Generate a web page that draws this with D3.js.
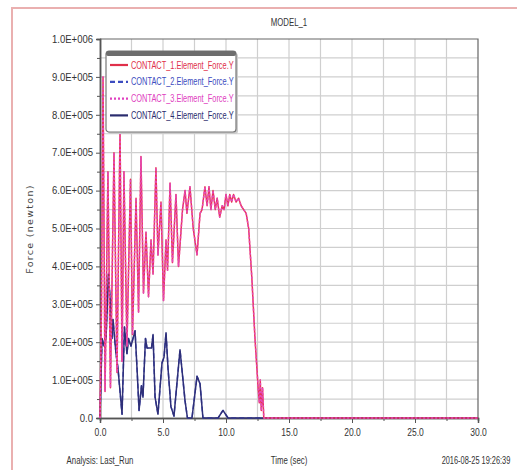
<html>
<head>
    <script src="https://d3js.org/d3.v7.min.js"></script>
    <style>body { margin: 0; background: #fff; }</style>
</head>
<body>
    <svg width="517" height="470"></svg>
    <script>
        // values: [time (sec), force (newton)]
        const contact1 = [
            [0.00, 0], [0.12, 3.0e5], [0.24, 9.0e5], [0.40, 0.7e5], [0.63, 6.5e5], [0.83, 0.8e5],
            [1.11, 7.0e5], [1.35, 1.2e5], [1.59, 7.6e5], [1.75, 1.5e5], [1.90, 6.5e5], [2.14, 1.9e5],
            [2.42, 6.3e5], [2.58, 2.2e5], [2.86, 5.8e5], [3.06, 2.8e5], [3.25, 6.9e5], [3.45, 3.3e5],
            [3.65, 4.9e5], [3.85, 3.2e5], [4.05, 4.7e5], [4.21, 3.8e5], [4.44, 6.6e5], [4.60, 4.3e5],
            [4.84, 5.7e5], [5.04, 3.1e5], [5.24, 4.7e5], [5.36, 3.9e5], [5.56, 6.2e5], [5.75, 4.1e5],
            [6.03, 5.9e5], [6.23, 4.0e5], [6.55, 5.5e5], [6.75, 6.0e5], [6.90, 5.4e5], [7.14, 6.1e5],
            [7.40, 5.0e5], [7.70, 4.3e5], [7.94, 5.4e5], [8.10, 5.5e5], [8.33, 6.1e5], [8.50, 5.6e5],
            [8.65, 6.1e5], [8.80, 5.5e5], [8.97, 6.0e5], [9.15, 5.5e5], [9.30, 5.8e5], [9.50, 5.3e5],
            [9.70, 5.6e5], [9.85, 5.5e5], [10.00, 5.9e5], [10.15, 5.6e5], [10.30, 5.9e5], [10.45, 5.7e5],
            [10.60, 5.9e5], [10.80, 5.7e5], [11.00, 5.8e5], [11.20, 5.6e5], [11.40, 5.5e5], [11.60, 5.4e5],
            [11.80, 5.0e5], [12.05, 3.7e5], [12.30, 2.1e5], [12.55, 0.8e5], [12.65, 0.4e5], [12.72, 1.0e5],
            [12.80, 0.2e5], [12.90, 0.8e5], [13.00, 0], [30.00, 0]
        ]
        // contact 3 lies on top of contact 1 in the picture
        const contact3 = contact1

        const contact4 = [
            [0.00, 0], [0.16, 2.1e5], [0.32, 1.9e5], [0.48, 2.1e5], [0.67, 3.8e5], [0.79, 3.2e5],
            [0.95, 2.1e5], [1.03, 2.6e5], [1.27, 1.7e5], [1.43, 1.3e5], [1.75, 0.1e5], [1.94, 2.4e5],
            [2.14, 1.7e5], [2.26, 2.1e5], [2.46, 1.9e5], [2.78, 2.3e5], [2.94, 1.3e5], [3.10, 0.2e5],
            [3.29, 0.85e5], [3.41, 0.55e5], [3.61, 2.1e5], [3.73, 1.85e5], [4.09, 1.85e5], [4.21, 2.2e5],
            [4.37, 0.55e5], [4.60, 0.1e5], [4.92, 1.45e5], [5.08, 1.6e5], [5.24, 2.25e5], [5.40, 1.3e5],
            [5.63, 0.3e5], [5.87, 0.05e5], [6.35, 1.8e5], [6.75, 0.45e5], [6.94, 0], [7.30, 0],
            [7.70, 1.1e5], [7.94, 0.9e5], [8.17, 0], [9.37, 0], [9.76, 0.2e5], [10.16, 0], [30.00, 0]
        ]
        // contact 2 lies under contact 4
        const contact2 = contact4

        const seriesNames = ["CONTACT_1.Element_Force.Y", "CONTACT_2.Element_Force.Y",
                             "CONTACT_3.Element_Force.Y", "CONTACT_4.Element_Force.Y"]
        const xTicks = [0, 5, 10, 15, 20, 25, 30]
        const xTickLabels = ["0.0", "5.0", "10.0", "15.0", "20.0", "25.0", "30.0"]
        const yTicks = [0, 1e5, 2e5, 3e5, 4e5, 5e5, 6e5, 7e5, 8e5, 9e5, 1e6]
        const yTickLabels = ["0.0", "1.0E+005", "2.0E+005", "3.0E+005", "4.0E+005", "5.0E+005",
                             "6.0E+005", "7.0E+005", "8.0E+005", "9.0E+005", "1.0E+006"]

        const MARGIN = { LEFT: 100, RIGHT: 39, TOP: 39, BOTTOM: 52 }
        const WIDTH = 517 - MARGIN.LEFT - MARGIN.RIGHT
        const HEIGHT = 470 - MARGIN.TOP - MARGIN.BOTTOM
        const FONT = "'Liberation Sans', Arial, sans-serif"

        // squeeze text horizontally, the original uses a narrow font
        function condense(sel, k) {
            sel.each(function () {
                const w = this.getComputedTextLength()
                d3.select(this).attr("textLength", w * k).attr("lengthAdjust", "spacingAndGlyphs")
            })
        }

        const svg = d3.select("svg")

        // page frame
        svg.append("rect").attr("width", 517).attr("height", 470).attr("fill", "#fff")
        svg.append("path")
            .attr("d", "M12,470 L12,8 L517,8")
            .attr("fill", "none")
            .attr("stroke", "#eab0b0")
            .attr("stroke-width", 2)

        const g = svg.append("g")
            .attr("transform", `translate(${MARGIN.LEFT}, ${MARGIN.TOP})`)

        const x = d3.scaleLinear().domain([0, 30]).range([0, WIDTH])
        const y = d3.scaleLinear().domain([0, 1e6]).range([HEIGHT, 0])

        // grid
        g.append("g").selectAll("line")
            .data(d3.range(0.5e5, 1e6, 0.5e5))
            .enter().append("line")
            .attr("x1", 0).attr("x2", WIDTH)
            .attr("y1", d => y(d)).attr("y2", d => y(d))
            .attr("stroke", "#cfcfcf").attr("stroke-width", 1.2)
        g.append("g").selectAll("line")
            .data(d3.range(2.5, 30, 2.5))
            .enter().append("line")
            .attr("y1", 0).attr("y2", HEIGHT)
            .attr("x1", d => x(d)).attr("x2", d => x(d))
            .attr("stroke", "#cfcfcf").attr("stroke-width", 1.2)

        // frame top / right
        g.append("path")
            .attr("d", `M0,0 H${WIDTH} V${HEIGHT}`)
            .attr("fill", "none").attr("stroke", "#666").attr("stroke-width", 1.2)

        // axes
        const xAxis = g.append("g")
            .attr("transform", `translate(0, ${HEIGHT})`)
            .call(d3.axisBottom(x).tickValues(xTicks).tickFormat((d, i) => xTickLabels[i]).tickSize(5).tickPadding(6))
        g.append("g")
            .attr("transform", `translate(0, ${HEIGHT})`)
            .call(d3.axisBottom(x).tickValues(d3.range(2.5, 30, 5)).tickFormat("").tickSize(3))
        const yAxis = g.append("g")
            .call(d3.axisLeft(y).tickValues(yTicks).tickFormat((d, i) => yTickLabels[i]).tickSize(4).tickPadding(3))
        g.append("g")
            .call(d3.axisLeft(y).tickValues(d3.range(0.5e5, 1e6, 1e5)).tickFormat("").tickSize(3))

        g.selectAll(".domain").attr("stroke", "#555").attr("stroke-width", 1.5)
        g.selectAll(".tick line").attr("stroke", "#555")
        g.selectAll(".tick text")
            .attr("font-family", FONT).attr("font-size", "10px").attr("fill", "#333")
        xAxis.selectAll(".tick text").call(condense, 0.85)
        yAxis.selectAll(".tick text").call(condense, 0.95)

        // lines
        const line = d3.line().x(d => x(d[0])).y(d => y(d[1]))
        const series = [
            { data: contact2, color: "#4a56c8", dash: "5,3" },
            { data: contact4, color: "#2e2f78", dash: null },
            { data: contact1, color: "#e8345a", dash: null },
            { data: contact3, color: "#e44ab8", dash: "2,2" }
        ]
        series.forEach(s => {
            g.append("path")
                .datum(s.data)
                .attr("d", line)
                .attr("fill", "none")
                .attr("stroke", s.color)
                .attr("stroke-width", 1.5)
                .attr("stroke-dasharray", s.dash)
                .attr("stroke-linejoin", "round")
        })

        // legend
        const legendColors = ["#e0304a", "#3c4cc0", "#e040c0", "#2a2c6e"]
        const legendDash = [null, "5,3", "2,2", null]
        const lg = svg.append("g").attr("transform", "translate(106, 51)")
        lg.append("rect")
            .attr("x", 2).attr("y", 2).attr("width", 130).attr("height", 81).attr("rx", 3)
            .attr("fill", "#ccc")
        lg.append("rect")
            .attr("width", 130).attr("height", 81).attr("rx", 3)
            .attr("fill", "#fff").attr("stroke", "#777").attr("stroke-width", 1.2)
        lg.append("rect")
            .attr("width", 130).attr("height", 5).attr("rx", 2)
            .attr("fill", "#6d6d6d")
        seriesNames.forEach((name, i) => {
            const yy = 14 + i * 16.8
            lg.append("line")
                .attr("x1", 4).attr("x2", 22).attr("y1", yy).attr("y2", yy)
                .attr("stroke", legendColors[i]).attr("stroke-width", 2.2)
                .attr("stroke-dasharray", legendDash[i])
            lg.append("text")
                .attr("x", 25).attr("y", yy + 3.5)
                .attr("font-family", FONT).attr("font-size", "10px")
                .attr("fill", legendColors[i])
                .text(name)
                .call(condense, 0.74)
        })

        // title and labels
        svg.append("text")
            .attr("x", MARGIN.LEFT + WIDTH / 2).attr("y", 26)
            .attr("text-anchor", "middle")
            .attr("font-family", FONT).attr("font-size", "10px").attr("fill", "#333")
            .text("MODEL_1")
            .call(condense, 0.78)
        svg.append("text")
            .attr("transform", "translate(33, 229) rotate(-90)")
            .attr("text-anchor", "middle")
            .attr("font-family", "'DejaVu Sans', sans-serif").attr("font-size", "9.5px")
            .attr("letter-spacing", "1.3px").attr("fill", "#444")
            .text("Force (newton)")
        const bottomTexts = [
            { x: MARGIN.LEFT, t: "Analysis:  Last_Run", k: 0.78 },
            { x: MARGIN.LEFT + WIDTH / 2, t: "Time (sec)", k: 0.78 },
            { x: MARGIN.LEFT + WIDTH - 2, t: "2016-08-25 19:26:39", k: 0.74 }
        ]
        bottomTexts.forEach(b => {
            svg.append("text")
                .attr("x", b.x).attr("y", 464)
                .attr("text-anchor", "middle")
                .attr("font-family", FONT).attr("font-size", "10px").attr("fill", "#333")
                .text(b.t)
                .call(condense, b.k)
        })
    </script>
</body>
</html>
